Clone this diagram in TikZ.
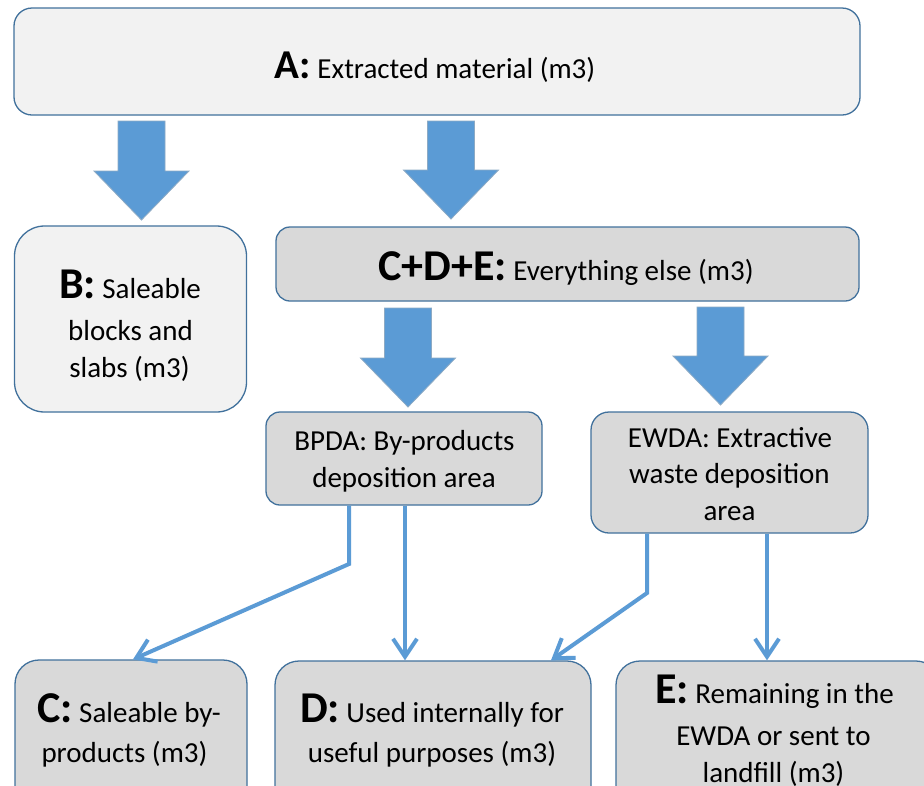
\documentclass[tikz,border=0pt]{standalone}
\usepackage{fontspec}
\setmainfont{Carlito}
\usetikzlibrary{arrows.meta}
\definecolor{bordc}{HTML}{41719C}
\definecolor{lightf}{HTML}{F2F2F2}
\definecolor{darkf}{HTML}{D9D9D9}
\definecolor{arrowc}{HTML}{5B9BD5}
\newcommand\bigb[1]{{\fontsize{44}{50}\selectfont\bfseries #1}}
\newcommand\bigA[1]{{\fontsize{41}{48}\selectfont\bfseries #1}}
\newcommand\blockarr[3]{%
  \filldraw[fill=arrowc, draw=bordc!60, line width=0.8pt]
    (#1-23.5,#2) -- (#1+23.5,#2) -- (#1+23.5,#3-49) -- (#1+47.5,#3-49)
    -- (#1,#3) -- (#1-47.5,#3-49) -- (#1-23.5,#3-49) -- cycle;}
\tikzset{
  boxbase/.style={draw=bordc, line width=1.3pt, inner sep=0pt},
  lbox/.style={boxbase, fill=lightf},
  dbox/.style={boxbase, fill=darkf},
  txt/.style={anchor=base, inner sep=0pt, font=\fontsize{29}{34}\selectfont},
  conn/.style={draw=arrowc, line width=4pt,
    -{Straight Barb[length=18pt,width=24pt]}},
}
\begin{document}
\begin{tikzpicture}[x=1pt,y=-1pt]
\useasboundingbox (0,0) rectangle (924,785);
\clip (0,0) rectangle (924,785);
\fill[white] (0,0) rectangle (924,785);

% boxes
\node[lbox, rounded corners=18pt, minimum width=846pt, minimum height=107pt] (a) at (437,61.5) {};
\node[lbox, rounded corners=30pt, minimum width=232pt, minimum height=186pt] (b) at (130.5,319) {};
\node[dbox, rounded corners=14pt, minimum width=583pt, minimum height=74pt] (cde) at (567.5,264) {};
\node[dbox, rounded corners=14pt, minimum width=276pt, minimum height=93pt] (bpda) at (404,458.5) {};
\node[dbox, rounded corners=18pt, minimum width=277pt, minimum height=121pt] (ewda) at (729.5,472.5) {};
\node[dbox, rounded corners=24pt, minimum width=232pt, minimum height=170pt] (c) at (131,745) {};
\node[dbox, rounded corners=24pt, minimum width=316pt, minimum height=169pt] (d) at (433,745.5) {};
\node[dbox, rounded corners=24pt, minimum width=324pt, minimum height=169pt] (e) at (778,745.5) {};

% block arrows
\blockarr{141.5}{121}{220}
\blockarr{451}{121}{219}
\blockarr{408}{308}{407}
\blockarr{720.5}{307}{405}

% texts
\node[txt] (ta) at (435,78) {\bigA{A:} Extracted material (m3)};
\node[txt] (tcde) at (566,280) {\bigb{C+D+E:} Everything else (m3)};
\node[txt] (tb1) at (130,298) {\bigb{B:} Saleable};
\node[txt] (tb2) at (130.5,340) {blocks and};
\node[txt] (tb3) at (129.5,377) {slabs (m3)};
\node[txt] (tp1) at (404.5,450) {BPDA: By-products};
\node[txt] (tp2) at (404,487) {deposition area};
\node[txt] (tw1) at (730,447) {EWDA: Extractive};
\node[txt] (tw2) at (729.5,483) {waste deposition};
\node[txt] (tw3) at (729.5,520) {area};
\node[txt] (tc1) at (129,722) {\bigb{C:} Saleable by-};
\node[txt] (tc2) at (124.5,762) {products (m3)};
\node[txt] (td1) at (432,722) {\bigb{D:} Used internally for};
\node[txt] (td2) at (432,762) {useful purposes (m3)};
\node[txt] (te1) at (774.5,703) {\bigb{E:} Remaining in the};
\node[txt] (te2) at (773.5,745) {EWDA or sent to};
\node[txt] (te3) at (773.5,782) {landfill (m3)};

% connectors
\coordinate (k1) at (349,564);
\coordinate (t1) at (133,0);
\coordinate (x2) at (405,0);
\coordinate (k3) at (647,593);
\coordinate (t3) at (551,0);
\coordinate (x4) at (767,0);
\draw[conn] (bpda.south -| k1) -- (k1) -- (c.north -| t1);
\draw[conn] (bpda.south -| x2) -- (d.north -| x2);
\draw[conn] (ewda.south -| k3) -- (k3) -- (d.north -| t3);
\draw[conn] (ewda.south -| x4) -- (e.north -| x4);
\end{tikzpicture}
\end{document}
